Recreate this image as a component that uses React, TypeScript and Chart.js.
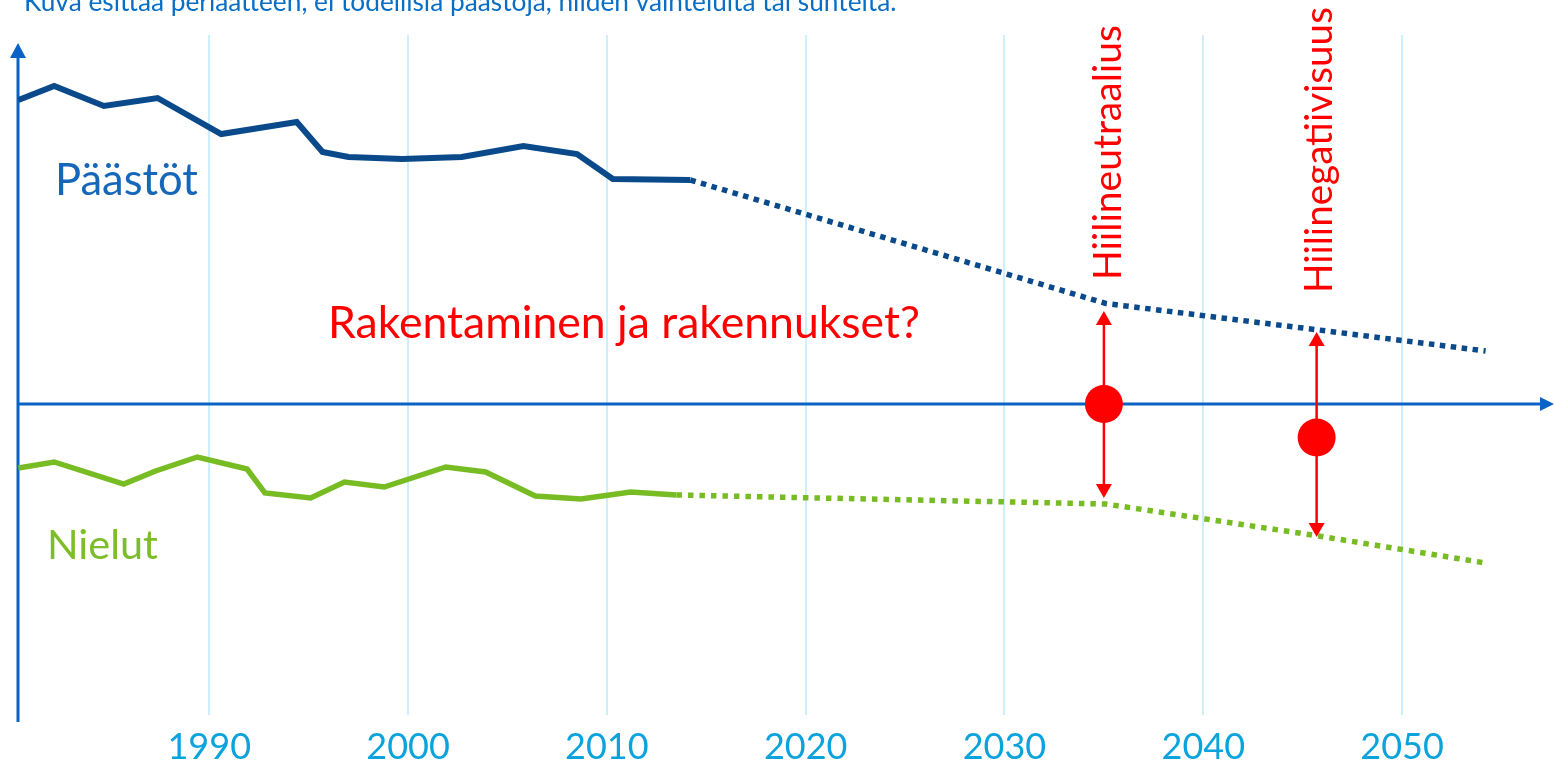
import React, { useEffect, useRef } from "react";
import { Chart, registerables } from "chart.js";

Chart.register(...registerables);

// ---- Data ----
const tickYears = [1990, 2000, 2010, 2020, 2030, 2040, 2050];

const emissionYears = [1980.4, 1982.2, 1984.7, 1987.4, 1990.6, 1994.4, 1995.7, 1997.0, 1999.7, 2002.7, 2005.8, 2008.5, 2010.3, 2014.2];
const emissionValues = [30.4, 31.8, 29.8, 30.6, 27.0, 28.2, 25.2, 24.7, 24.5, 24.7, 25.8, 25.0, 22.5, 22.4];
const emissionProjYears = [2014.2, 2035.1, 2045.8, 2054.2];
const emissionProjValues = [22.4, 10.05, 7.4, 5.3];

const sinkYears = [1980.4, 1982.2, 1985.7, 1987.3, 1989.4, 1991.9, 1992.8, 1995.1, 1996.8, 1998.8, 2001.9, 2003.9, 2006.4, 2008.7, 2011.2, 2013.5];
const sinkValues = [-6.4, -5.8, -8.0, -6.7, -5.3, -6.5, -8.9, -9.4, -7.8, -8.3, -6.3, -6.8, -9.2, -9.5, -8.8, -9.1];
const sinkProjYears = [2013.5, 2035.1, 2045.8, 2054.2];
const sinkProjValues = [-9.1, -10.0, -13.2, -15.9];

const milestoneYears = [2035.0, 2045.7];
const milestoneBalances = [0, -3.35];
const milestoneLabels = ["Hiilineutraalius", "Hiilinegatiivisuus"];
const arrowTopValues = [9.3, 7.2];
const arrowBottomValues = [-9.4, -13.3];

const noteText = "Kuva esittää periaatteen, ei todellisia päästöjä, niiden vaihteluita tai suhteita.";
const emissionLabel = "Päästöt";
const sinkLabel = "Nielut";
const questionText = "Rakentaminen ja rakennukset?";

const toPoints = (xs: number[], ys: number[]) => xs.map((x, i) => ({ x, y: ys[i] }));

const FONT = "Lato, 'Noto Sans', sans-serif";

function fitText(ctx: CanvasRenderingContext2D, text: string, width: number) {
  ctx.font = `100px ${FONT}`;
  const w = ctx.measureText(text).width;
  const size = (100 * width) / w;
  ctx.font = `${size}px ${FONT}`;
}

const decorPlugin = {
  id: "decor",
  beforeDatasetsDraw(chart: any) {
    const { ctx, chartArea, scales } = chart;
    const y0 = scales.y.getPixelForValue(0);
    const left = chartArea.left;
    const axisColor = "#0a62c4";
    ctx.save();
    ctx.strokeStyle = axisColor;
    ctx.fillStyle = axisColor;
    ctx.lineWidth = 3;
    // y axis
    ctx.beginPath();
    ctx.moveTo(left, 722);
    ctx.lineTo(left, 55);
    ctx.stroke();
    ctx.beginPath();
    ctx.moveTo(left, 43);
    ctx.lineTo(left - 8, 58);
    ctx.lineTo(left + 8, 58);
    ctx.closePath();
    ctx.fill();
    // x axis (zero line)
    const right = chart.width;
    ctx.beginPath();
    ctx.moveTo(left, y0);
    ctx.lineTo(right - 12, y0);
    ctx.stroke();
    ctx.beginPath();
    ctx.moveTo(right, y0);
    ctx.lineTo(right - 14, y0 - 7);
    ctx.lineTo(right - 14, y0 + 7);
    ctx.closePath();
    ctx.fill();
    ctx.restore();
  },
  afterDatasetsDraw(chart: any) {
    const { ctx, scales } = chart;
    const xs = scales.x;
    const ys = scales.y;
    ctx.save();
    // arrows
    ctx.strokeStyle = "#ff0000";
    ctx.fillStyle = "#ff0000";
    ctx.lineWidth = 2.5;
    milestoneYears.forEach((yr, i) => {
      const x = xs.getPixelForValue(yr);
      const top = ys.getPixelForValue(arrowTopValues[i]);
      const bot = ys.getPixelForValue(arrowBottomValues[i]);
      ctx.beginPath();
      ctx.moveTo(x, top + 10);
      ctx.lineTo(x, bot - 10);
      ctx.stroke();
      ctx.beginPath();
      ctx.moveTo(x, top);
      ctx.lineTo(x - 8, top + 14);
      ctx.lineTo(x + 8, top + 14);
      ctx.closePath();
      ctx.fill();
      ctx.beginPath();
      ctx.moveTo(x, bot);
      ctx.lineTo(x - 8, bot - 14);
      ctx.lineTo(x + 8, bot - 14);
      ctx.closePath();
      ctx.fill();
    });
    // rotated milestone labels
    const rot = [
      { dx: 17, startY: 280, len: 255 },
      { dx: 15, startY: 293, len: 286 },
    ];
    milestoneLabels.forEach((t, i) => {
      const x = xs.getPixelForValue(milestoneYears[i]) + rot[i].dx;
      ctx.save();
      ctx.translate(x, rot[i].startY);
      ctx.rotate(-Math.PI / 2);
      fitText(ctx, t, rot[i].len);
      ctx.textAlign = "left";
      ctx.textBaseline = "alphabetic";
      ctx.fillStyle = "#ff0000";
      ctx.fillText(t, 0, 0);
      ctx.restore();
    });
    // texts
    const texts = [
      { t: noteText, x: 24, y: 11, w: 873, c: "#0a6ec4" },
      { t: emissionLabel, x: 55, y: 195, w: 143, c: "#1767b8" },
      { t: sinkLabel, x: 47, y: 559, w: 111, c: "#7dbd2a" },
      { t: questionText, x: 328, y: 338, w: 592, c: "#ff0000" },
    ];
    texts.forEach((o) => {
      fitText(ctx, o.t, o.w);
      ctx.textAlign = "left";
      ctx.textBaseline = "alphabetic";
      ctx.fillStyle = o.c;
      ctx.fillText(o.t, o.x, o.y);
    });
    ctx.restore();
  },
};

export default function App() {
  const ref = useRef<HTMLCanvasElement | null>(null);
  useEffect(() => {
    if (!ref.current) return;
    const chart = new Chart(ref.current, {
      type: "line",
      data: {
        datasets: [
          {
            data: toPoints(emissionYears, emissionValues),
            borderColor: "#0b4a8a",
            borderWidth: 6,
            pointRadius: 0,
            tension: 0,
            fill: false,
          },
          {
            data: toPoints(emissionProjYears, emissionProjValues),
            borderColor: "#0b4a8a",
            borderWidth: 5.5,
            borderDash: [5.5, 5.5],
            pointRadius: 0,
            tension: 0,
            fill: false,
          },
          {
            data: toPoints(sinkYears, sinkValues),
            borderColor: "#78bc24",
            borderWidth: 5.5,
            pointRadius: 0,
            tension: 0,
            fill: false,
          },
          {
            data: toPoints(sinkProjYears, sinkProjValues),
            borderColor: "#78bc24",
            borderWidth: 5.5,
            borderDash: [5.5, 6],
            pointRadius: 0,
            tension: 0,
            fill: false,
          },
          {
            data: toPoints(milestoneYears, milestoneBalances),
            showLine: false,
            pointRadius: 19,
            pointBackgroundColor: "#ff0000",
            pointBorderWidth: 0,
            borderColor: "#ff0000",
          },
        ],
      },
      options: {
        responsive: false,
        animation: false,
        events: [],
        layout: { autoPadding: false, padding: { left: 18, top: 35, right: 0, bottom: 0 } },
        plugins: { legend: { display: false }, tooltip: { enabled: false } },
        scales: {
          x: {
            type: "linear",
            min: 1980.38,
            max: 2057.64,
            afterBuildTicks: (s: any) => {
              s.ticks = tickYears.map((v) => ({ value: v }));
            },
            afterFit: (s: any) => {
              s.height = 50;
              s.paddingLeft = 0;
              s.paddingRight = 0;
            },
            grid: { color: "#cdeefb", lineWidth: 2, drawTicks: false },
            border: { display: false },
            ticks: {
              color: "#0aa3dc",
              font: { family: FONT, size: 36 },
              padding: 11,
              maxRotation: 0,
              autoSkip: false,
              callback: (v: any) => String(v),
            },
          },
          y: {
            display: false,
            min: -31.1,
            max: 36.9,
          },
        },
      },
      plugins: [decorPlugin],
    });
    return () => chart.destroy();
  }, []);
  return (
    <div style={{ position: "fixed", left: 0, top: 0, width: 1554, height: 765, background: "#fff" }}>
      <canvas ref={ref} width={1554} height={765} style={{ display: "block" }} />
    </div>
  );
}
